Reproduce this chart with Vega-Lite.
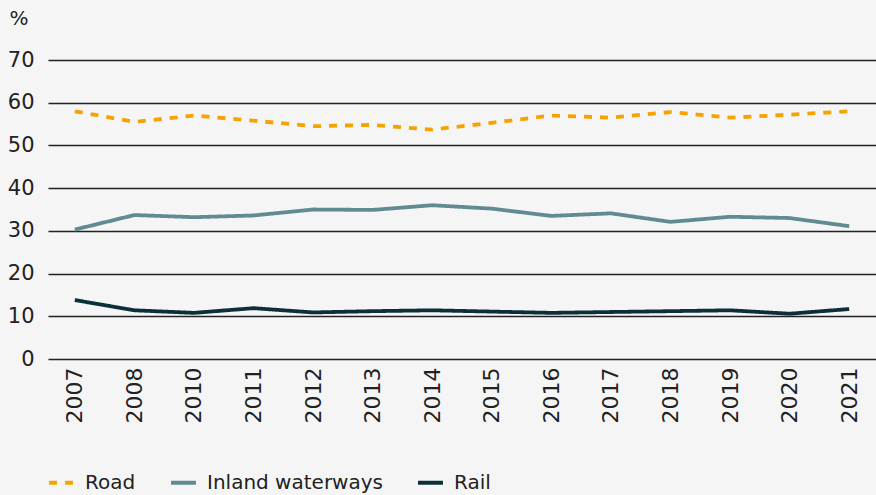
{
  "$schema": "https://vega.github.io/schema/vega-lite/v6.json",
  "autosize": "none",
  "width": 828,
  "height": 299,
  "padding": {"left": 48, "top": 60, "right": 0, "bottom": 136},
  "background": "#f5f5f5",
  "config": {
    "view": {"stroke": null},
    "font": "DejaVu Sans",
    "axis": {"labelFont": "DejaVu Sans", "titleFont": "DejaVu Sans", "labelColor": "#222222", "titleColor": "#222222"},
    "legend": {"labelFont": "DejaVu Sans", "labelColor": "#222222"}
  },
  "data": {
    "values": [
      {"year": "2007", "mode": "Road", "value": 58.0},
      {"year": "2008", "mode": "Road", "value": 55.5},
      {"year": "2010", "mode": "Road", "value": 57.0},
      {"year": "2011", "mode": "Road", "value": 55.8},
      {"year": "2012", "mode": "Road", "value": 54.5},
      {"year": "2013", "mode": "Road", "value": 54.8},
      {"year": "2014", "mode": "Road", "value": 53.7},
      {"year": "2015", "mode": "Road", "value": 55.3},
      {"year": "2016", "mode": "Road", "value": 57.0},
      {"year": "2017", "mode": "Road", "value": 56.5},
      {"year": "2018", "mode": "Road", "value": 57.8},
      {"year": "2019", "mode": "Road", "value": 56.5},
      {"year": "2020", "mode": "Road", "value": 57.2},
      {"year": "2021", "mode": "Road", "value": 58.0},
      {"year": "2007", "mode": "Inland waterways", "value": 30.3},
      {"year": "2008", "mode": "Inland waterways", "value": 33.7},
      {"year": "2010", "mode": "Inland waterways", "value": 33.2},
      {"year": "2011", "mode": "Inland waterways", "value": 33.6},
      {"year": "2012", "mode": "Inland waterways", "value": 35.0},
      {"year": "2013", "mode": "Inland waterways", "value": 34.9},
      {"year": "2014", "mode": "Inland waterways", "value": 36.0},
      {"year": "2015", "mode": "Inland waterways", "value": 35.2},
      {"year": "2016", "mode": "Inland waterways", "value": 33.5},
      {"year": "2017", "mode": "Inland waterways", "value": 34.1},
      {"year": "2018", "mode": "Inland waterways", "value": 32.1},
      {"year": "2019", "mode": "Inland waterways", "value": 33.3},
      {"year": "2020", "mode": "Inland waterways", "value": 33.0},
      {"year": "2021", "mode": "Inland waterways", "value": 31.1},
      {"year": "2007", "mode": "Rail", "value": 13.8},
      {"year": "2008", "mode": "Rail", "value": 11.4},
      {"year": "2010", "mode": "Rail", "value": 10.8},
      {"year": "2011", "mode": "Rail", "value": 11.9},
      {"year": "2012", "mode": "Rail", "value": 10.9},
      {"year": "2013", "mode": "Rail", "value": 11.2},
      {"year": "2014", "mode": "Rail", "value": 11.4},
      {"year": "2015", "mode": "Rail", "value": 11.1},
      {"year": "2016", "mode": "Rail", "value": 10.8},
      {"year": "2017", "mode": "Rail", "value": 11.0},
      {"year": "2018", "mode": "Rail", "value": 11.2},
      {"year": "2019", "mode": "Rail", "value": 11.4},
      {"year": "2020", "mode": "Rail", "value": 10.6},
      {"year": "2021", "mode": "Rail", "value": 11.7}
    ]
  },
  "mark": {"type": "line", "strokeWidth": 3.8, "interpolate": "linear"},
  "encoding": {
    "x": {
      "field": "year", "type": "ordinal",
      "scale": {"type": "point", "padding": 0.45},
      "axis": {"title": null, "labelAngle": -90, "labelFontSize": 22, "labelPadding": 8, "ticks": false, "domain": false, "grid": false, "labelBaseline": "middle", "labelAlign": "right"}
    },
    "y": {
      "field": "value", "type": "quantitative",
      "scale": {"domain": [0, 70]},
      "axis": {
        "values": [0, 10, 20, 30, 40, 50, 60, 70],
        "title": "%", "titleAngle": 0, "titleAlign": "left", "titleBaseline": "middle", "titleX": -39, "titleY": -42, "titleFontSize": 20, "titleFontWeight": "normal",
        "labelFontSize": 21, "labelPadding": 14, "ticks": false, "domain": false,
        "grid": true, "gridColor": "#222222", "gridWidth": 1.3, "gridOpacity": 1
      }
    },
    "color": {
      "field": "mode", "type": "nominal",
      "scale": {"domain": ["Road", "Inland waterways", "Rail"], "range": ["#f5a300", "#628b91", "#0b3038"]},
      "legend": {
        "title": null, "orient": "none", "direction": "horizontal", "legendX": -1, "legendY": 408,
        "labelFontSize": 20, "labelLimit": 400, "symbolType": "stroke", "symbolSize": 620, "symbolStrokeWidth": 3.8, "columnPadding": 27, "labelOffset": 9
      }
    },
    "strokeDash": {
      "field": "mode", "type": "nominal",
      "scale": {"domain": ["Road", "Inland waterways", "Rail"], "range": [[8, 8], [1, 0], [1, 0]]},
      "legend": null
    }
  }
}
